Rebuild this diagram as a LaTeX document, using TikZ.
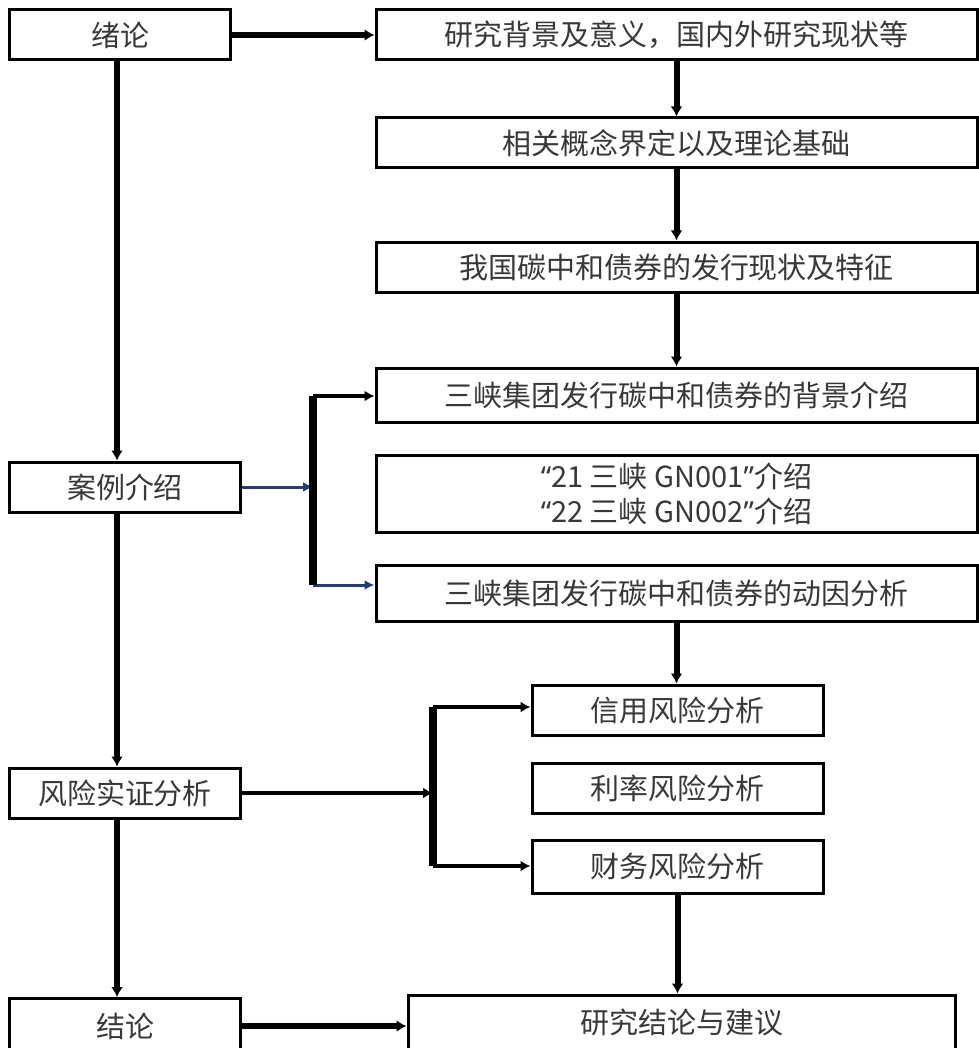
\documentclass[tikz,border=0pt]{standalone}
\usepackage{fontspec}
\setmainfont{Noto Sans CJK SC}
\newfontfamily\quotefont{Noto Sans}
\usetikzlibrary{arrows.meta}
\definecolor{navyline}{RGB}{38,62,110}

\begin{document}
\begin{tikzpicture}[
  x=0.2mm, y=-0.2mm,
  topic/.style={draw,line width=0.6mm,minimum width=46mm,minimum height=10mm,inner sep=0pt},
  detail/.style={draw,line width=0.6mm,minimum width=120.2mm,minimum height=10mm,inner sep=0pt,align=center},
  risk/.style={detail,minimum width=58.2mm},
  flow/.style={-{Latex[length=2mm,width=2.4mm]},line width=1.2mm},
  fork/.style={-{Latex[length=2mm,width=2.2mm]},line width=0.9mm},
  feed/.style={-{Latex[length=2mm,width=2mm]},line width=0.6mm,navyline},
  bar/.style={line width=1.6mm},
  every node/.append style={font=\fontsize{16.5pt}{20pt}\selectfont,text=black!78}
]
  \useasboundingbox (0,0) rectangle (979,1048);
  \clip (0,0) rectangle (979,1048);

  % chapters on the left
  \node[topic,minimum width=44mm] (xulun) at (120,35) {绪论};
  \node[topic] (anli) at (125,487) {案例介绍};
  \node[topic] (fengxian) at (125,793) {风险实证分析};
  \node[topic,minimum height=11mm] (jielun) at (125,1026) {结论};

  % contents on the right
  \node[detail] (yiyi) at (676.5,35) {研究背景及意义，国内外研究现状等};
  \node[detail] (gainian) at (676.5,143) {相关概念界定以及理论基础};
  \node[detail] (xianzhuang) at (676.5,267) {我国碳中和债券的发行现状及特征};
  \node[detail,minimum height=10.8mm] (beijing) at (676.5,395) {三峡集团发行碳中和债券的背景介绍};
  \node[detail,minimum height=15.4mm] (gn) at (676.5,493.5)
    {{\quotefont “}21 三峡 GN001{\quotefont ”}介绍\\{\quotefont “}22 三峡 GN002{\quotefont ”}介绍};
  \node[detail,minimum height=11.2mm] (dongyin) at (676.5,593) {三峡集团发行碳中和债券的动因分析};
  \node[risk] (xinyong) at (677.5,710) {信用风险分析};
  \node[risk] (lilv) at (677.5,788.5) {利率风险分析};
  \node[risk,minimum height=10.6mm] (caiwu) at (677.5,866.5) {财务风险分析};
  \node[detail,minimum width=109.4mm,minimum height=11mm] (jianyi) at (681.5,1022.5) {研究结论与建议};

  \coordinate (spine) at (117,0);
  \coordinate (fork1top) at (313,396);
  \coordinate (fork1bot) at (313,585);
  \coordinate (fork2top) at (433,707);
  \coordinate (fork2bot) at (433,866);

  % main line
  \draw[flow] (xulun.south -| spine) -- (anli.north -| spine);
  \draw[flow] (anli.south -| spine) -- (fengxian.north -| spine);
  \draw[flow] (fengxian.south -| spine) -- (jielun.north -| spine);
  \draw[flow] (xulun.east) -- (yiyi.west);
  \draw[flow] (yiyi) -- (gainian);
  \draw[flow] (gainian) -- (xianzhuang);
  \draw[flow] (xianzhuang) -- (beijing);
  \draw[flow] (dongyin.south) -- (dongyin.south |- xinyong.north);
  \draw[flow] (caiwu.south) -- (caiwu.south |- jianyi.north);
  \draw[flow] (jielun.east) -- (jielun.east -| jianyi.west);

  % case bracket
  \draw[feed] (anli.east) -- (anli.east -| fork1top);
  \draw[fork] (fork1top) -- (fork1top -| beijing.west);
  \draw[feed] (fork1bot) -- (fork1bot -| dongyin.west);
  \draw[bar] (fork1top) -- (fork1bot);

  % risk bracket
  \draw[fork] (fengxian.east) -- (fengxian.east -| fork2top);
  \draw[fork] (fork2top) -- (fork2top -| xinyong.west);
  \draw[fork] (fork2bot) -- (fork2bot -| caiwu.west);
  \draw[bar] (fork2top) -- (fork2bot);
\end{tikzpicture}
\end{document}
